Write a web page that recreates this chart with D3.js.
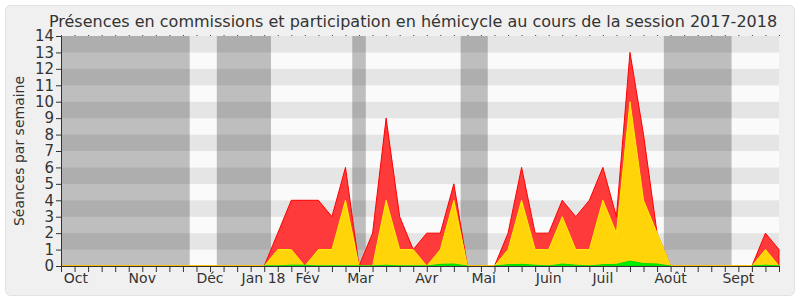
<!DOCTYPE html>
<html>
<head>
<meta charset="utf-8">
<script src="https://cdn.jsdelivr.net/npm/d3@7"></script>
<style>
  body { margin: 0; background: #fff; }
  text { font-family: "DejaVu Sans", sans-serif; fill: #333; }
</style>
</head>
<body>
<div id="svg-area"></div>
<script>
// weekly data, week 0 = first week of october 2017
var weeks = d3.range(0, 54);

// red : commissions
var presences = [0, 0, 0, 0, 0, 0, 0, 0, 0, 0, 0, 0, 0, 0, 0, 0, 2, 4, 4, 4, 3, 6, 0, 2, 9, 3, 1, 2, 2, 5,
  0, 0, 0, 2, 6, 2, 2, 4, 3, 4, 6, 3, 13, 8, 2, 0, 0, 0, 0, 0, 0, 0, 2, 1];
// yellow : hemicycle
var hemicycle = [0, 0, 0, 0, 0, 0, 0, 0, 0, 0, 0, 0, 0, 0, 0, 0, 1, 1, 0, 1, 1, 4, 0, 0, 4, 1, 1, 0, 1, 4,
  0, 0, 0, 1, 4, 1, 1, 3, 1, 1, 4, 2, 10, 4, 2, 0, 0, 0, 0, 0, 0, 0, 1, 0];
// green : interventions (null = no data that week)
var interventions = [null, null, null, null, null, null, null, null, null, null, null, null, null, null, null,
  0, 0, 0.05, 0.05, 0, 0, 0, 0, 0, 0.05, 0, 0, 0, 0.1, 0.12,
  0, null, 0, 0.08, 0.1, 0.05, 0, 0.12, 0.05, 0, 0.08, 0.1, 0.3, 0.15, 0.12, 0,
  null, null, null, null, null, 0, 0.05, 0];

// holidays (in weeks)
var vacances = [[0, 9.5], [11.5, 15.5], [21.5, 22.5], [29.5, 31.5], [44.5, 49.5]];

// month labels
var moisLabels = ["Oct", "Nov", "Déc", "Jan 18", "Fév", "Mar", "Avr", "Mai", "Juin", "Juil", "Août", "Sept"];
var moisPos = [1.1, 6, 11, 14.95, 18.2, 22.1, 27, 31.2, 36, 40, 45, 50];

var yTicks = d3.range(0, 15);

var svgWidth = 800;
var svgHeight = 300;

var margin = {
  top: 36,
  right: 20,
  bottom: 34,
  left: 61
};

var width = svgWidth - margin.left - margin.right - 1;
var height = svgHeight - margin.top - margin.bottom;

var svg = d3
  .select("#svg-area")
  .append("svg")
  .attr("width", svgWidth)
  .attr("height", svgHeight);

// panel background
svg.append("rect")
  .attr("x", 5.5)
  .attr("y", 5.5)
  .attr("width", 789)
  .attr("height", 290)
  .attr("rx", 5)
  .attr("fill", "#f0f0f0")
  .attr("stroke", "#e2e2e2");

svg.append("text")
  .attr("x", 413)
  .attr("y", 27)
  .attr("text-anchor", "middle")
  .style("font-size", "16px")
  .text("Présences en commissions et participation en hémicycle au cours de la session 2017-2018");

var chartGroup = svg.append("g")
  .attr("transform", `translate(${margin.left}, ${margin.top})`);

// Step 1: scales
var xScale = d3.scaleLinear()
  .domain([0, 53])
  .range([0, width]);

var yScale = d3.scaleLinear()
  .domain([0, 14])
  .range([height, 0]);

// Step 2: striped background
chartGroup.selectAll(".stripe")
  .data(yTicks.slice(0, 14))
  .join("rect")
  .attr("class", "stripe")
  .attr("x", 0)
  .attr("width", width)
  .attr("y", d => yScale(d + 1))
  .attr("height", d => yScale(d) - yScale(d + 1))
  .attr("fill", d => d % 2 ? "#e5e5e5" : "#fafafa");

// holidays
chartGroup.selectAll(".vac")
  .data(vacances)
  .join("rect")
  .attr("class", "vac")
  .attr("x", d => xScale(d[0]))
  .attr("width", d => xScale(d[1]) - xScale(d[0]))
  .attr("y", 0)
  .attr("height", height)
  .attr("fill", "#000")
  .attr("fill-opacity", 0.24);

// Step 3: areas
var area = function (values) {
  return d3.area()
    .defined((d, i) => values[i] !== null)
    .x((d, i) => xScale(weeks[i]))
    .y0(height)
    .y1((d, i) => yScale(values[i]));
};

chartGroup.append("path")
  .datum(presences)
  .attr("d", area(presences))
  .attr("fill", "#ff3a3a")
  .attr("stroke", "#ff0000")
  .attr("stroke-width", 1);

chartGroup.append("path")
  .datum(hemicycle)
  .attr("d", area(hemicycle))
  .attr("fill", "#ffd50a")
  .attr("stroke", "#ffee00")
  .attr("stroke-width", 1);

chartGroup.append("path")
  .datum(interventions)
  .attr("d", area(interventions))
  .attr("fill", "#00ee00")
  .attr("stroke", "#00dd00")
  .attr("stroke-width", 1);

// Step 4: axes
var bottomAxis = d3.axisBottom(xScale)
  .tickValues(weeks)
  .tickSize(6)
  .tickFormat("");

var topAxis = d3.axisTop(xScale)
  .tickValues(weeks)
  .tickSize(1)
  .tickFormat("");

var leftAxis = d3.axisLeft(yScale)
  .tickValues(yTicks)
  .tickSize(5)
  .tickPadding(2);

var xAxisG = chartGroup.append("g")
  .attr("transform", `translate(0, ${height})`)
  .call(bottomAxis);

chartGroup.append("g")
  .call(topAxis)
  .call(g => g.select(".domain").remove())
  .selectAll("line").attr("stroke", "#444");

var yAxisG = chartGroup.append("g")
  .call(leftAxis);

yAxisG.selectAll("text")
  .style("font-size", "15px")
  .attr("fill", "#333");

[xAxisG, yAxisG].forEach(g => {
  g.select(".domain").attr("stroke", "#333");
  g.selectAll("line").attr("stroke", "#333");
});

// month labels
chartGroup.selectAll(".mois")
  .data(moisLabels)
  .join("text")
  .attr("class", "mois")
  .attr("x", (d, i) => xScale(moisPos[i]))
  .attr("y", height + 17)
  .attr("text-anchor", "middle")
  .style("font-size", "14px")
  .text(d => d);

// axis label
chartGroup.append("text")
  .attr("transform", "rotate(-90)")
  .attr("x", 0 - (height / 2))
  .attr("y", 0 - margin.left + 24)
  .attr("text-anchor", "middle")
  .style("font-size", "14px")
  .text("Séances par semaine");
</script>
</body>
</html>
